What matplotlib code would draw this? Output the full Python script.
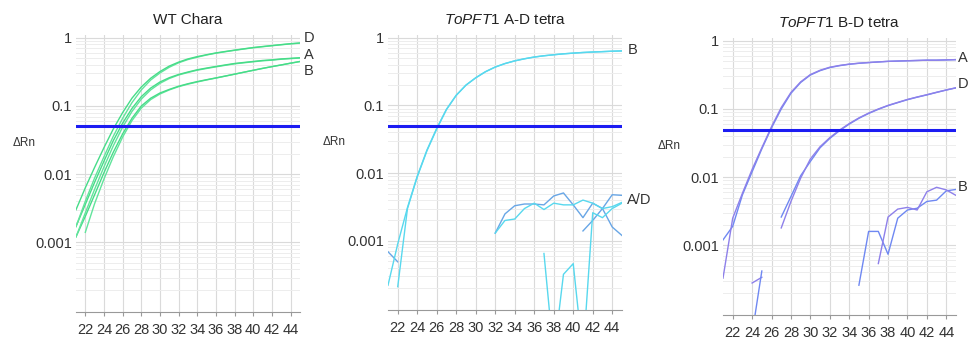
import numpy as np
import matplotlib.pyplot as plt
from matplotlib.ticker import LogLocator, NullFormatter

nan = np.nan

# amplification plots, cycles 21..45, delta Rn on log scale
cycles = np.arange(21, 46)
threshold = 0.05

# WT Chara (D, A, B - two replicates each)
wt_d1 = [0.0030, 0.0063, 0.0126, 0.0245, 0.046, 0.080, 0.130, 0.19, 0.255, 0.32, 0.385, 0.44, 0.49,
         0.53, 0.565, 0.60, 0.63, 0.66, 0.69, 0.72, 0.745, 0.77, 0.795, 0.82, 0.84]
wt_d2 = [0.0017, 0.0040, 0.0088, 0.0180, 0.036, 0.066, 0.112, 0.172, 0.24, 0.305, 0.37, 0.43, 0.48,
         0.52, 0.56, 0.595, 0.625, 0.655, 0.685, 0.715, 0.74, 0.765, 0.79, 0.815, 0.835]
wt_a1 = [0.0017, 0.0036, 0.0076, 0.0155, 0.031, 0.056, 0.092, 0.137, 0.183, 0.225, 0.26, 0.29, 0.315,
         0.34, 0.36, 0.38, 0.40, 0.42, 0.435, 0.45, 0.465, 0.475, 0.49, 0.50, 0.51]
wt_a2 = [0.0012, 0.0027, 0.0060, 0.0128, 0.026, 0.049, 0.083, 0.126, 0.172, 0.215, 0.253, 0.285, 0.31,
         0.335, 0.355, 0.375, 0.395, 0.415, 0.43, 0.445, 0.46, 0.47, 0.485, 0.495, 0.505]
wt_b1 = [0.0012, 0.0024, 0.0050, 0.0105, 0.021, 0.039, 0.066, 0.10, 0.13, 0.155, 0.175, 0.195, 0.212,
         0.228, 0.243, 0.258, 0.275, 0.293, 0.313, 0.334, 0.356, 0.378, 0.40, 0.425, 0.45]
wt_b2 = [nan, 0.0014, 0.0037, 0.0085, 0.018, 0.035, 0.061, 0.093, 0.124, 0.15, 0.172, 0.192, 0.209,
         0.225, 0.241, 0.257, 0.274, 0.293, 0.313, 0.334, 0.356, 0.378, 0.40, 0.424, 0.448]

# ToPFT1 A-D tetra
ad_b1 = [0.00069, 0.00049] + [nan] * 23
ad_b2 = [0.00022, 0.0009, 0.0031, 0.0090, 0.022, 0.046, 0.088, 0.142, 0.20, 0.257, 0.316, 0.37,
         0.417, 0.457, 0.49, 0.52, 0.543, 0.562, 0.58, 0.594, 0.607, 0.617, 0.625, 0.634, 0.641]
ad_b3 = [nan, 0.00021, 0.0030, 0.0088, 0.0215, 0.045, 0.087, 0.141, 0.20, 0.256, 0.315, 0.37,
         0.416, 0.456, 0.49, 0.52, 0.543, 0.562, 0.58, 0.594, 0.607, 0.617, 0.625, 0.634, 0.64]
ad_a1 = [nan] * 11 + [0.0013, 0.0025, 0.0033, 0.0035, 0.0035, 0.0034, 0.0046, 0.0051, 0.0034,
                      0.0022, 0.0036, 0.0030, 0.0016, 0.0012]
ad_a2 = [nan] * 20 + [0.0014, 0.0020, 0.0030, 0.0048, 0.0047]
ad_d1 = [nan] * 11 + [0.0013, 0.0020, 0.0021, 0.0030, 0.0036, 0.0029, 0.0036, 0.0034, 0.0034,
                      0.0040, 0.0036, 0.0030, 0.0032, 0.0037]
ad_d2 = [nan] * 16 + [0.00065, 0.00002, 0.00032, 0.00046, 0.00002, 0.0026, 0.0022, 0.0030, 0.0036]

# ToPFT1 B-D tetra
bd_a1 = [0.00033, 0.0025, 0.0058, 0.013, 0.027, 0.055, 0.105, 0.175, 0.25, 0.32, 0.37, 0.41, 0.435,
         0.455, 0.47, 0.48, 0.49, 0.50, 0.505, 0.51, 0.515, 0.52, 0.52, 0.525, 0.53]
bd_a2 = [0.0012, 0.0019, 0.0055, 0.012, 0.026, 0.053, 0.10, 0.17, 0.245, 0.315, 0.365, 0.405, 0.432,
         0.453, 0.468, 0.48, 0.49, 0.50, 0.505, 0.51, 0.515, 0.52, 0.52, 0.525, 0.53]
bd_d1 = [nan] * 6 + [0.0018, 0.0044, 0.0097, 0.0185, 0.028, 0.038, 0.049, 0.061, 0.074, 0.087,
                     0.10, 0.113, 0.125, 0.138, 0.15, 0.162, 0.176, 0.19, 0.205]
bd_d2 = [nan] * 6 + [0.0026, 0.0052, 0.0105, 0.017, 0.027, 0.037, 0.048, 0.060, 0.073, 0.086,
                     0.099, 0.112, 0.124, 0.137, 0.149, 0.161, 0.175, 0.19, 0.204]
bd_b1 = [nan] * 14 + [0.00026, 0.0016, 0.0016, 0.00074, 0.0025, 0.0033, 0.0035, 0.0044, 0.0046,
                      0.0063, 0.0066]
bd_b2 = [nan] * 16 + [0.00054, 0.0026, 0.0034, 0.0036, 0.0033, 0.0061, 0.0071, 0.0065, 0.0054]
bd_x1 = [nan] * 3 + [0.00028, 0.00034] + [nan] * 20
bd_x2 = [nan] * 3 + [0.00005, 0.00042] + [nan] * 20

green1, green2 = '#46dc88', '#62e49c'
cyan, cblue = '#58d8ee', '#68a6e6'
blue, purple = '#6f88f2', '#8e80ea'

plt.rcParams['font.family'] = ['Liberation Sans Narrow', 'Liberation Sans', 'DejaVu Sans']
plt.rcParams['mathtext.fontset'] = 'custom'
plt.rcParams['mathtext.it'] = 'Liberation Sans:italic'
plt.rcParams['mathtext.rm'] = 'Liberation Sans'

fig = plt.figure(figsize=(9.79, 3.43), dpi=100)
ax1 = fig.add_axes([0.0776, 0.0904, 0.2288, 0.8076])
ax2 = fig.add_axes([0.3963, 0.0962, 0.2390, 0.8017])
ax3 = fig.add_axes([0.7385, 0.0816, 0.2380, 0.8076])


def style(ax, title):
    ax.set_yscale('log')
    ax.set_xlim(21, 45)
    ax.set_ylim(9.5e-5, 1.1)
    ax.set_xticks(range(22, 46, 2))
    ax.set_yticks([0.001, 0.01, 0.1, 1])
    ax.set_yticklabels(['0.001', '0.01', '0.1', '1'])
    ax.yaxis.set_minor_locator(LogLocator(base=10, subs=np.arange(2, 10)))
    ax.yaxis.set_minor_formatter(NullFormatter())
    ax.tick_params(axis='y', which='both', length=0, pad=3, labelsize=10.5, colors='#333333')
    ax.tick_params(axis='x', length=3, color='#999999', pad=5, labelsize=10.5, labelcolor='#333333')
    ax.grid(True, which='major', axis='both', color='#dadada', lw=0.8)
    ax.grid(True, which='minor', axis='y', color='#ededed', lw=0.7)
    for s in ['top', 'right', 'left']:
        ax.spines[s].set_visible(False)
    ax.spines['bottom'].set_color('#999999')
    ax.set_axisbelow(True)
    ax.text(-0.232, 0.61, 'ΔRn', transform=ax.transAxes, ha='center', va='center',
            fontsize=8.5, family='Liberation Sans', color='#333333')
    ax.set_title(title, fontsize=11, family='Liberation Sans', color='#222222', pad=8)
    ax.axhline(threshold, color='#1c1cf2', lw=2.2, zorder=5)


def curve(ax, y, c):
    ax.plot(cycles, y, color=c, lw=1.0, zorder=3)


style(ax1, 'WT Chara')
for y, c in [(wt_b2, green2), (wt_b1, green1), (wt_a2, green2), (wt_a1, green1),
             (wt_d2, green2), (wt_d1, green1)]:
    curve(ax1, y, c)

style(ax2, r'$\mathit{ToPFT1}$ A-D tetra')
for y, c in [(ad_b1, cblue), (ad_b2, cyan), (ad_b3, cyan), (ad_a1, cblue), (ad_a2, cblue),
             (ad_d1, cyan), (ad_d2, cyan)]:
    curve(ax2, y, c)

style(ax3, r'$\mathit{ToPFT1}$ B-D tetra')
for y, c in [(bd_a2, blue), (bd_a1, purple), (bd_d2, blue), (bd_d1, purple), (bd_b1, blue),
             (bd_b2, purple), (bd_x1, purple), (bd_x2, blue)]:
    curve(ax3, y, c)

lab = dict(fontsize=10.5, color='#333333', ha='left', va='center', clip_on=False)
ax1.text(45.4, 1.0, 'D', **lab)
ax1.text(45.4, 0.56, 'A', **lab)
ax1.text(45.4, 0.33, 'B', **lab)
ax2.text(45.6, 0.66, 'B', **lab)
ax2.text(45.5, 0.004, 'A/D', **lab)
ax3.text(45.2, 0.56, 'A', **lab)
ax3.text(45.2, 0.23, 'D', **lab)
ax3.text(45.2, 0.0071, 'B', **lab)

fig.savefig('out.png', dpi=100, facecolor='white')
